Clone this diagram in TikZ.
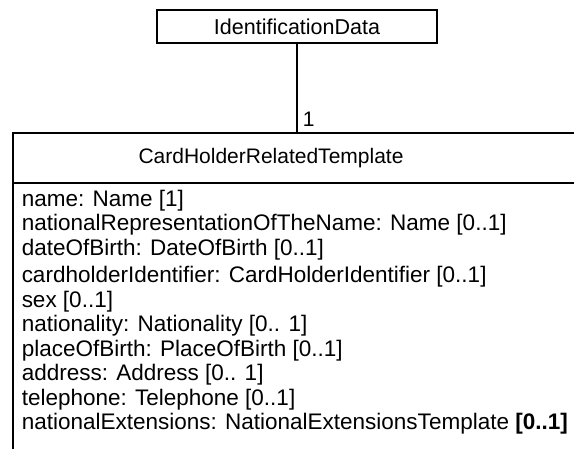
\documentclass[tikz,border=0pt]{standalone}
\usepackage{fontspec}
\setmainfont{Liberation Sans}
\tikzset{
  classbox/.style={draw, minimum width=280pt, minimum height=33pt, inner sep=0pt,
    font=\fontsize{21.5}{21.5}\selectfont},
  classname/.style={inner sep=0pt, font=\fontsize{21}{21}\selectfont},
  attr/.style={anchor=base west, inner sep=0pt, font=\fontsize{22.5}{22.5}\selectfont},
}
\begin{document}
\begin{tikzpicture}[x=1pt,y=-1pt,line width=1.5pt]
  \useasboundingbox (0,0) rectangle (574,448);
  \clip (0,0) rectangle (574,448);
  \node[classbox] (ident) at (297,26.5) {IdentificationData};
  \coordinate (top) at (13,133);
  \coordinate (topright) at (580,133);
  \coordinate (bottom) at (13,455);
  \coordinate (sepleft) at (13,183);
  \coordinate (sepright) at (580,183);
  \node[classname] (holder) at (271,158) {CardHolderRelatedTemplate};
  \draw (topright) -- (top) -- (bottom);
  \draw (sepleft) -- (sepright);
  \draw (ident.south) -- (ident.south |- top)
    node[anchor=base west, inner sep=0pt, xshift=5pt, yshift=7pt,
      font=\fontsize{21}{21}\selectfont] (mult) {1};
  \draw
    (21,206) node[attr] (name){name: Name [1]}
    (21,230.5) node[attr] (natname){nationalRepresentationOfTheName: Name [0..1]}
    (21,255) node[attr] (birth){dateOfBirth: DateOfBirth [0..1]}
    (21,282.5) node[attr] (chid){cardholderIdentifier: CardHolderIdentifier [0..1]}
    (21,307) node[attr] (sex){sex [0..1]}
    (21,331.5) node[attr] (nat){nationality: Nationality [0.. 1]}
    (21,356) node[attr] (place){placeOfBirth: PlaceOfBirth [0..1]}
    (21,380.5) node[attr] (addr){address: Address [0.. 1]}
    (21,405) node[attr] (tel){telephone: Telephone [0..1]}
    (21,429.5) node[attr] (ext){nationalExtensions: NationalExtensionsTemplate \textbf{[0..1]}};
\end{tikzpicture}
\end{document}
